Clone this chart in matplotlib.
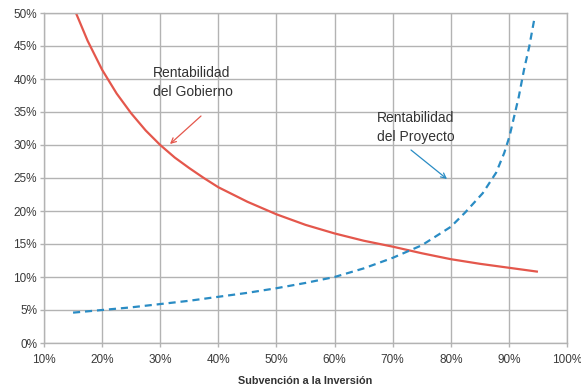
import matplotlib
matplotlib.use("Agg")
import matplotlib.pyplot as plt
from matplotlib.ticker import FuncFormatter

plt.rcParams['font.family'] = ['Liberation Sans', 'DejaVu Sans']

# Data (percent)
gob_x = [15.5, 17.5, 20, 22.5, 25, 27.5, 30, 32.5, 35, 37.5, 40, 45, 50, 55, 60, 65, 70, 75, 80, 85, 90, 95]
gob_y = [50.0, 45.8, 41.4, 37.8, 34.8, 32.2, 30.0, 28.1, 26.5, 25.0, 23.6, 21.4, 19.5, 17.9, 16.6, 15.5, 14.6, 13.6, 12.7, 12.0, 11.4, 10.8]

proy_x = [15, 20, 25, 30, 35, 40, 45, 50, 55, 60, 65, 70, 75, 80, 82.5, 85.5, 87.8, 89.2, 90.1, 90.9, 91.7, 92.6, 93.5, 94.4]
proy_y = [4.6, 5.0, 5.4, 5.9, 6.4, 7.0, 7.6, 8.3, 9.1, 10.0, 11.3, 12.9, 14.8, 17.6, 19.8, 22.7, 25.8, 28.8, 31.3, 34.3, 37.3, 41.4, 44.9, 49.2]

x_ticks = [10, 20, 30, 40, 50, 60, 70, 80, 90, 100]
y_ticks = [0, 5, 10, 15, 20, 25, 30, 35, 40, 45, 50]

red = '#e4574c'
blue = '#2a8cc4'
grid_c = '#b3b3b3'

fig = plt.figure(figsize=(5.81, 3.87), dpi=100)
ax = fig.add_axes([44/581, 1-343/387, (567-44)/581, (343-13)/387])

ax.plot(gob_x, gob_y, color=red, lw=1.6, solid_capstyle='butt')
ax.plot(proy_x, proy_y, color=blue, lw=1.6, dashes=(3.2, 2.2))

ax.set_xlim(10, 100)
ax.set_ylim(0, 50)
ax.set_xticks(x_ticks)
ax.set_yticks(y_ticks)
pct = FuncFormatter(lambda v, p: f"{int(round(v))}%")
ax.xaxis.set_major_formatter(pct)
ax.yaxis.set_major_formatter(pct)
ax.grid(True, color=grid_c, lw=1.0)
ax.set_axisbelow(True)
for s in ax.spines.values():
    s.set_color(grid_c)
    s.set_linewidth(1.0)
ax.tick_params(axis='both', colors=grid_c, length=3, width=1.0, labelsize=8.5, labelcolor='#3a3a3a', pad=2)
ax.tick_params(axis='x', pad=5)

ax.set_xlabel('Subvención a la Inversión', fontsize=7.8, fontweight='bold', color='#333333', labelpad=7)

def px2data(px, py):
    return (10 + (px - 44) / (567 - 44) * 90, (343 - py) / (343 - 13) * 50)

ax.text(*px2data(153, 82.5), 'Rentabilidad\ndel Gobierno', fontsize=10, color='#333333',
        ha='left', va='center', linespacing=1.4)
ax.text(*px2data(416, 127.5), 'Rentabilidad\ndel Proyecto', fontsize=10, color='#333333',
        ha='center', va='center', linespacing=1.4, multialignment='center')

ax.annotate('', xy=px2data(170, 144), xytext=px2data(201, 116),
            arrowprops=dict(arrowstyle='->', color=red, lw=0.9, mutation_scale=9,
                            shrinkA=0, shrinkB=0))
ax.annotate('', xy=px2data(447, 179), xytext=px2data(411, 150),
            arrowprops=dict(arrowstyle='->', color=blue, lw=0.9, mutation_scale=9,
                            shrinkA=0, shrinkB=0))

fig.savefig('out.png', dpi=100)
